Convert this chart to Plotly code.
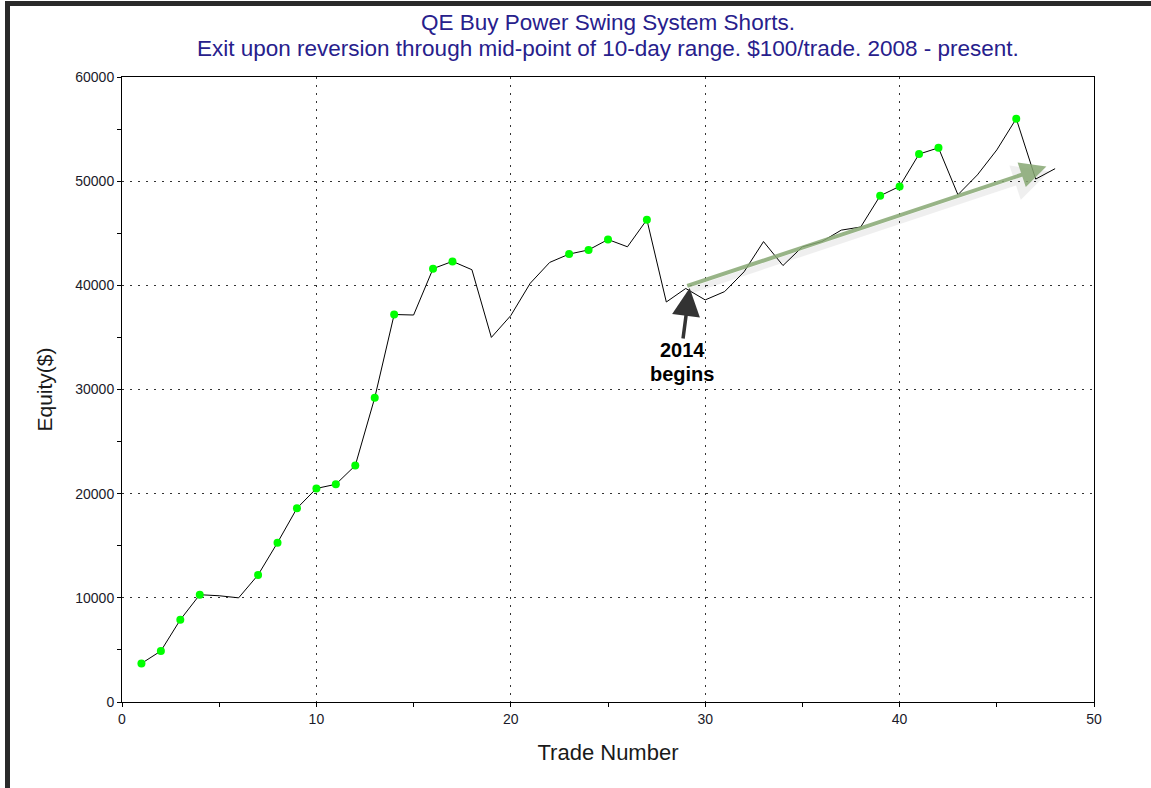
import plotly.graph_objects as go

# ---- data ----
trade_numbers = list(range(1, 49))
equity = [3700, 4900, 7900, 10300, 10200, 10000, 12200, 15300, 18600, 20500,
          20900, 22700, 29200, 37200, 37150, 41600, 42300, 41500, 35000, 37100,
          40200, 42200, 43000, 43400, 44400, 43700, 46300, 38400, 39700, 38600,
          39400, 41300, 44200, 41900, 43700, 44200, 45300, 45600, 48600, 49500,
          52600, 53200, 48700, 50600, 53000, 56000, 50200, 51200]
new_high_trades = [1, 2, 3, 4, 7, 8, 9, 10, 11, 12, 13, 14, 16, 17, 23, 24, 25,
                   27, 39, 40, 41, 42, 46]
new_high_equity = [equity[t - 1] for t in new_high_trades]

x_ticks = [0, 10, 20, 30, 40, 50]
y_ticks = [0, 10000, 20000, 30000, 40000, 50000, 60000]

title_line1 = "QE Buy Power Swing System Shorts."
title_line2 = "Exit upon reversion through mid-point of 10-day range. $100/trade. 2008 - present."
label_line1 = "2014"
label_line2 = "begins"

# annotation anchor points (data coordinates)
trend_start = (29.0, 39900)
trend_end = (47.55, 51400)
label_arrow_tail = (28.85, 34750)
label_arrow_tip = (29.2, 39750)
label_x = 28.83

# ---- layout geometry (pixels) ----
W, H = 1151, 788
L, R, T, B = 122, 1094, 77, 702
FONT = "Liberation Sans, Arial, sans-serif"

fig = go.Figure()
fig.add_trace(go.Scatter(x=trade_numbers, y=equity, mode="lines",
                         line=dict(color="black", width=1), hoverinfo="skip",
                         showlegend=False))
fig.add_trace(go.Scatter(x=new_high_trades, y=new_high_equity, mode="markers",
                         marker=dict(color="#00ff00", size=8), hoverinfo="skip",
                         showlegend=False))


def px_to_paper_x(p):
    return (p - L) / (R - L)


def px_to_paper_y(p):
    return (B - p) / (B - T)


# window frame borders (top and left)
fig.add_shape(type="rect", xref="paper", yref="paper",
              x0=px_to_paper_x(5), x1=px_to_paper_x(W + 5),
              y0=px_to_paper_y(6), y1=px_to_paper_y(1),
              fillcolor="#2a2a2a", line=dict(width=0), layer="above")
fig.add_shape(type="rect", xref="paper", yref="paper",
              x0=px_to_paper_x(5), x1=px_to_paper_x(10),
              y0=px_to_paper_y(H + 5), y1=px_to_paper_y(1),
              fillcolor="#2a2a2a", line=dict(width=0), layer="above")

# title lines
for text, ypix in ((title_line1, 23), (title_line2, 48)):
    fig.add_annotation(x=0.5, y=px_to_paper_y(ypix), xref="paper", yref="paper",
                       text=text, showarrow=False, xanchor="center",
                       yanchor="middle",
                       font=dict(family=FONT, size=22.5, color="#27208c"))

# shadow of the green trend arrow
fig.add_annotation(x=trend_end[0] + 0.15, y=trend_end[1] - 450,
                   ax=trend_start[0] + 0.15, ay=trend_start[1] - 450,
                   xref="x", yref="y", axref="x", ayref="y", text="",
                   showarrow=True, arrowhead=2, arrowsize=1.2, arrowwidth=6,
                   arrowcolor="rgba(0,0,0,0.06)")
# green trend arrow
fig.add_annotation(x=trend_end[0], y=trend_end[1],
                   ax=trend_start[0], ay=trend_start[1],
                   xref="x", yref="y", axref="x", ayref="y", text="",
                   showarrow=True, arrowhead=2, arrowsize=1.3, arrowwidth=4,
                   arrowcolor="rgba(135,168,115,0.85)")
# black arrow
fig.add_annotation(x=label_arrow_tip[0], y=label_arrow_tip[1],
                   ax=label_arrow_tail[0], ay=label_arrow_tail[1],
                   xref="x", yref="y", axref="x", ayref="y", text="",
                   showarrow=True, arrowhead=2, arrowsize=1.6, arrowwidth=3.5,
                   arrowcolor="#333333")
for text, ypix in ((label_line1, 350), (label_line2, 374)):
    fig.add_annotation(x=label_x, y=px_to_paper_y(ypix), xref="x", yref="paper",
                       text="<b>" + text + "</b>", showarrow=False,
                       yanchor="middle", align="center",
                       font=dict(family=FONT, size=20, color="black"))

axis_common = dict(showline=True, linecolor="black", linewidth=1, mirror=True,
                   ticks="outside", ticklen=4, tickcolor="black",
                   showgrid=True, gridcolor="#333333", griddash="2px,6px",
                   gridwidth=1, zeroline=False, tickformat="d",
                   tickfont=dict(family=FONT, size=14, color="#1a1a2a"))

fig.update_xaxes(range=[0, 50], tickvals=x_ticks, **axis_common,
                 minor=dict(dtick=5, ticks="outside", ticklen=4,
                            tickcolor="black", showgrid=False),
                 title=dict(text="Trade Number", standoff=18,
                            font=dict(family=FONT, size=22, color="#1a1a1a")))
fig.update_yaxes(range=[0, 60000], tickvals=y_ticks, **axis_common,
                 minor=dict(dtick=5000, ticks="outside", ticklen=4,
                            tickcolor="black", showgrid=False),
                 title=dict(text="Equity($)", standoff=16,
                            font=dict(family=FONT, size=21, color="#1a1a1a")))

fig.update_layout(
    width=W, height=H,
    margin=dict(l=L, r=W - R, t=T, b=H - B, autoexpand=False),
    paper_bgcolor="white", plot_bgcolor="white",
)

fig.write_html("out.html", config={"displayModeBar": False},
               post_script="document.body.style.margin='0px';"
                           "document.body.style.overflow='hidden';")
